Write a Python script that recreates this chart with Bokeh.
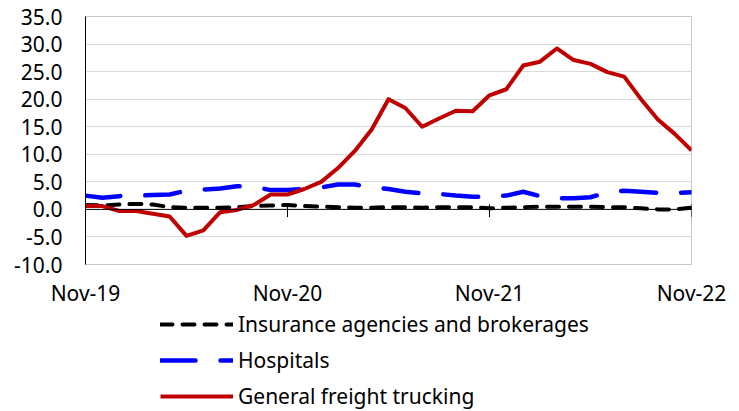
from bokeh.plotting import figure
from bokeh.layouts import column
from bokeh.models import (Range1d, FixedTicker, Legend, LegendItem, Span,
                          NumeralTickFormatter, ColumnDataSource)
from bokeh.embed import file_html
from bokeh.resources import INLINE

# ---- data (monthly, Nov-19 .. Nov-22) ----
tick_pos = [0, 12, 24, 36]
tick_labels = ["Nov-19", "Nov-20", "Nov-21", "Nov-22"]
months = list(range(37))
insurance = [0.8, 0.7, 0.9, 1.0, 0.9, 0.4, 0.3, 0.3, 0.3, 0.4, 0.6, 0.7,
             0.8, 0.6, 0.5, 0.4, 0.3, 0.3, 0.4, 0.4, 0.3, 0.4, 0.4, 0.4,
             0.2, 0.3, 0.4, 0.5, 0.5, 0.5, 0.5, 0.4, 0.4, 0.2, 0.0, 0.0, 0.3]
hospitals = [2.5, 2.1, 2.4, 2.5, 2.6, 2.7, 3.4, 3.6, 3.8, 4.2, 4.1, 3.5,
             3.5, 3.7, 4.0, 4.5, 4.5, 4.0, 3.7, 3.2, 2.9, 2.8, 2.5, 2.3,
             2.3, 2.5, 3.2, 2.4, 2.0, 2.0, 2.2, 3.1, 3.4, 3.2, 3.0, 3.0, 3.1]
freight = [0.6, 0.6, -0.3, -0.3, -0.8, -1.3, -4.8, -3.8, -0.5, -0.1, 0.8, 2.7,
           2.7, 3.7, 5.0, 7.5, 10.6, 14.5, 20.0, 18.4, 15.0, 16.5, 17.9, 17.8,
           20.7, 21.8, 26.1, 26.8, 29.2, 27.1, 26.4, 24.9, 24.1, 20.0, 16.3, 13.7, 10.7]
names = ["Insurance agencies and brokerages", "Hospitals", "General freight trucking"]
y_ticks = [-10, -5, 0, 5, 10, 15, 20, 25, 30, 35]

FONT = "Noto Sans"
FS = "21px"
TICK_UP = 0.9    # tick mark extent above the zero line (data units)
TICK_DOWN = 1.4  # tick mark extent below the zero line (data units)

styles = [dict(line_color="black", line_width=4, line_dash="12 10", line_cap="round"),
          dict(line_color="#0000FF", line_width=4.5, line_dash="35 25", line_cap="round"),
          dict(line_color="#C00000", line_width=4, line_join="round")]
cols = ["ins", "hosp", "fr"]

src = ColumnDataSource(dict(x=months, ins=insurance, hosp=hospitals, fr=freight))

# ---------------- main chart ----------------
p = figure(width=739, height=309, output_backend="svg", toolbar_location=None,
           x_range=Range1d(0, 36), y_range=Range1d(-10, 35),
           min_border_left=85, min_border_right=48, min_border_top=16,
           min_border_bottom=43)
p.outline_line_color = "#c8c8c8"
p.background_fill_color = "white"
p.border_fill_color = "white"

p.xgrid.grid_line_color = None
p.ygrid.grid_line_color = "#d9d9d9"
p.ygrid.grid_line_width = 1

p.yaxis.ticker = FixedTicker(ticks=y_ticks)
p.yaxis.formatter = NumeralTickFormatter(format="0.0")
p.yaxis.major_tick_in = 0
p.yaxis.major_tick_out = 0
p.yaxis.minor_tick_line_color = None
p.yaxis.axis_line_color = "black"
p.yaxis.axis_line_width = 1
p.yaxis.major_label_standoff = 23
p.yaxis.major_label_text_font = FONT
p.yaxis.major_label_text_font_size = FS
p.yaxis.major_label_text_color = "black"

p.xaxis.ticker = FixedTicker(ticks=tick_pos)
p.xaxis.major_label_overrides = {t: l for t, l in zip(tick_pos, tick_labels)}
p.xaxis.axis_line_color = None
p.xaxis.major_tick_in = 0
p.xaxis.major_tick_out = 0
p.xaxis.major_tick_line_color = None
p.xaxis.minor_tick_line_color = None
p.xaxis.major_label_standoff = 14
p.xaxis.major_label_text_font = FONT
p.xaxis.major_label_text_font_size = FS
p.xaxis.major_label_text_color = "black"

# zero line with crossing tick marks
p.add_layout(Span(location=0, dimension="width", line_color="black", line_width=1))
tsrc = ColumnDataSource(dict(x=tick_pos[1:],
                             y0=[TICK_UP] * len(tick_pos[1:]),
                             y1=[-TICK_DOWN] * len(tick_pos[1:])))
p.segment(x0="x", x1="x", y0="y0", y1="y1", source=tsrc,
          line_color="black", line_width=1)

for c, st in zip(cols, styles):
    p.line("x", c, source=src, **st)

# ---------------- legend strip ----------------
lg = figure(width=739, height=101, output_backend="svg", toolbar_location=None,
            x_range=Range1d(1000, 1001), y_range=Range1d(1000, 1001),
            x_axis_location=None, y_axis_location=None,
            min_border_left=0, min_border_right=0, min_border_top=0,
            min_border_bottom=0)
lg.outline_line_color = None
lg.grid.grid_line_color = None
lg.background_fill_color = "white"
lg.border_fill_color = "white"
rends = [lg.line("x", c, source=src, **st) for c, st in zip(cols, styles)]

legend = Legend(items=[LegendItem(label=n, renderers=[r]) for n, r in zip(names, rends)],
                location=(75, 0))
legend.orientation = "vertical"
legend.glyph_width = 73
legend.glyph_height = 22
legend.label_height = 22
legend.label_standoff = 5
legend.spacing = 8
legend.padding = 0
legend.margin = 0
legend.border_line_color = None
legend.background_fill_alpha = 0
legend.label_text_font = FONT
legend.label_text_font_size = FS
legend.label_text_color = "black"
lg.add_layout(legend, "center")

layout = column(p, lg, spacing=0)
open("out.html", "w").write(file_html(layout, INLINE))
